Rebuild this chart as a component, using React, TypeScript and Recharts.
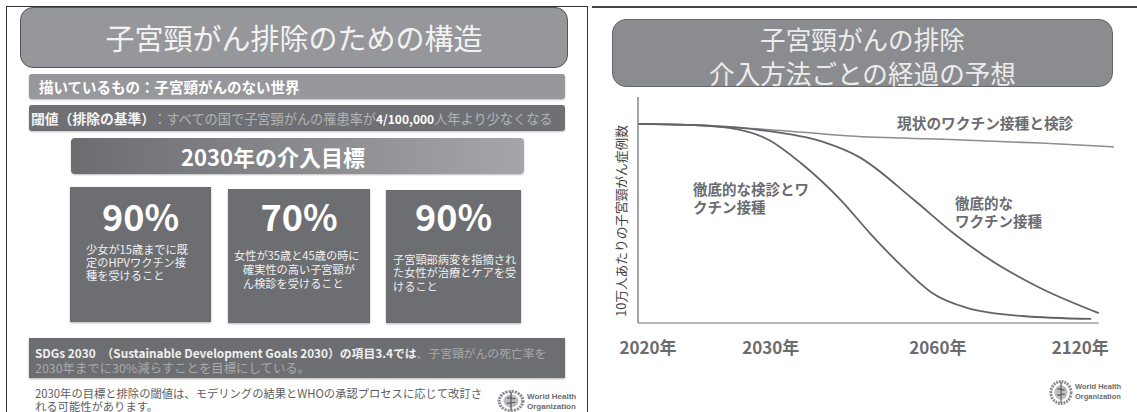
import { Line, LineChart, ReferenceLine, XAxis, YAxis } from "recharts";
import type { CSSProperties, ReactNode } from "react";

const JP = '"Noto Sans CJK JP", "Noto Sans", sans-serif';
const GREY_TEXT = "#6b6c70";

// Schematic time axis: 0-100 across the plot, the years are not evenly spaced.
const tickPositions = [2.1, 27.9, 63, 92.9];
const tickLabels = ["2020年", "2030年", "2060年", "2120年"];

const currentX = [0, 13, 25.6, 31.3, 44.5, 65.5, 84.5, 100];
const currentY = [88.1, 87.6, 85.8, 85, 82.7, 81.2, 79.6, 77.9];

const vaccineX = [0, 13, 25.6, 38.9, 46.4, 58, 66.2, 73.1, 84.5, 96.8];
const vaccineY = [88.1, 87.4, 85.4, 80.1, 73.5, 54.4, 39.8, 29.2, 15.5, 4.4];

const screeningX = [0, 10.9, 19.1, 27.5, 34.2, 42.6, 48.7, 55.6, 61.8, 69.3, 80.7, 95.2];
const screeningY = [88.1, 87.6, 86.3, 81, 70.8, 54.4, 39.8, 24.8, 13.3, 6.6, 3.1, 1.8];

const toRows = (xs: number[], ys: number[]) => xs.map((x, i) => ({ x, y: ys[i] }));

function Box({ style, children }: { style: CSSProperties; children?: ReactNode }) {
  return <div style={{ position: "absolute", boxSizing: "border-box", ...style }}>{children}</div>;
}

function Text({ x, y, size, color = "#fff", bold, width, children }: {
  x: number;
  y: number;
  size: number;
  color?: string;
  bold?: boolean;
  width?: number;
  children: ReactNode;
}) {
  // y is the vertical centre of the line
  const h = Math.ceil(size * 1.1);
  return (
    <div
      style={{
        position: "absolute",
        left: x,
        top: y - h / 2,
        width,
        height: h,
        lineHeight: `${h}px`,
        fontSize: size,
        fontWeight: bold ? 700 : 400,
        color,
        whiteSpace: "nowrap",
        textAlign: width ? "center" : "left",
      }}
    >
      {children}
    </div>
  );
}

function WhoLogo({ x, y, w, h, textX, fontSize, lineGap }: {
  x: number;
  y: number;
  w: number;
  h: number;
  textX: number;
  fontSize: number;
  lineGap: number;
}) {
  return (
    <div style={{ position: "absolute", left: x, top: y }}>
      <svg width={w} height={h} viewBox="0 0 26 24" preserveAspectRatio="none" style={{ position: "absolute", left: 0, top: 0 }}>
        <ellipse cx="13" cy="12" rx="11" ry="10.5" fill="none" stroke="#8a8b8f" strokeWidth="3" strokeDasharray="2 1" />
        <circle cx="13" cy="12" r="7" fill="#bdbec1" />
        <path d="M13 2v20M9 9c3-2 6 2 8 0M9 14c3 2 6-2 8 0" fill="none" stroke="#5e5f63" strokeWidth="1.3" />
      </svg>
      <div
        style={{
          position: "absolute",
          left: textX,
          top: 2,
          fontFamily: '"Liberation Sans", sans-serif',
          fontWeight: 700,
          fontSize,
          lineHeight: `${lineGap}px`,
          color: "#6a6b6f",
          whiteSpace: "nowrap",
        }}
      >
        World Health
        <br />
        Organization
      </div>
    </div>
  );
}

const cards = [
  { x: 70, y: 187, w: 141, h: 135, pct: "90%", lines: [[86, 249, "少女が15歳までに既"], [86, 262, "定のHPVワクチン接"], [86, 275, "種を受けること"]] },
  { x: 228, y: 189, w: 142, h: 134, pct: "70%", lines: [[234, 255, "女性が35歳と45歳の時に"], [243, 269, "確実性の高い子宮頸が"], [243, 283, "ん検診を受けること"]] },
  { x: 386, y: 190, w: 135, h: 133, pct: "90%", lines: [[393, 259, "子宮頸部病変を指摘され"], [393, 272.5, "た女性が治療とケアを受"], [393, 286, "けること"]] },
] as const;

export default function App() {
  return (
    <div style={{ position: "fixed", left: 0, top: 0, width: 1137, height: 412, overflow: "hidden", background: "#fff", fontFamily: JP }}>
      {/* slide frames */}
      <Box style={{ left: 6, top: 6, width: 582, height: 420, border: "1.5px solid #333" }} />
      <Box style={{ left: 592, top: 6, width: 560, height: 2, background: "#444" }} />

      {/* left slide */}
      <Box style={{ left: 20, top: 7, width: 548, height: 61, background: "#96979b", border: "1px solid #555", borderRadius: 13 }} />
      <Text x={20} y={37} size={29} width={548} color="#f2f2f2">子宮頸がん排除のための構造</Text>

      <Box style={{ left: 29, top: 74, width: 536, height: 25, background: "#97989c", borderRadius: 3, boxShadow: "0 1px 2px rgba(0,0,0,.25)" }} />
      <Text x={39} y={87} size={14.5} bold>描いているもの：子宮頸がんのない世界</Text>

      <Box style={{ left: 29, top: 105, width: 536, height: 26, background: "#6f7074", borderRadius: 3, boxShadow: "0 1px 2px rgba(0,0,0,.25)" }} />
      <Text x={31} y={118} size={13.2} color="#b4b5b7">
        <span style={{ color: "#f4f4f4", fontWeight: 700, fontSize: 13.8, marginRight: 5 }}>閾値（排除の基準）</span>：すべての国で子宮頸がんの罹患率が
        <span style={{ color: "#fff", fontWeight: 700, fontSize: 12 }}>4/100,000</span>人年より少なくなる
      </Text>

      <Box style={{ left: 71, top: 138, width: 453, height: 36, borderRadius: 4, background: "linear-gradient(90deg, #6c6d71, #a5a6a9)", boxShadow: "0 1px 2px rgba(0,0,0,.25)" }} />
      <Text x={71} y={156} size={22} bold width={404}>2030年の介入目標</Text>

      {cards.map((c) => (
        <div key={c.x}>
          <Box style={{ left: c.x, top: c.y, width: c.w, height: c.h, background: "#6d6e72", boxShadow: "0 1px 2px rgba(0,0,0,.3)" }} />
          <Text x={c.x} y={215} size={36} width={c.w} bold>{c.pct}</Text>
          {c.lines.map(([lx, ly, t]) => (
            <Text key={t} x={lx} y={ly} size={11.2} color="#f0f0f0">{t}</Text>
          ))}
        </div>
      ))}

      <Box style={{ left: 29, top: 338, width: 536, height: 40, background: "#6d6e72", boxShadow: "0 1px 2px rgba(0,0,0,.3)" }} />
      <Text x={35} y={352} size={11.8} color="#a9aaac">
        <span style={{ color: "#f0f0f0", fontWeight: 700 }}>SDGs 2030　（Sustainable Development Goals 2030）の項目3.4では</span>、子宮頸がんの死亡率を
      </Text>
      <Text x={35} y={368} size={12.4} color="#a9aaac">2030年までに30%減らすことを目標にしている。</Text>

      <Text x={35} y={393} size={11.3} color="#5c5d61">2030年の目標と排除の閾値は、モデリングの結果とWHOの承認プロセスに応じて改訂さ</Text>
      <Text x={35} y={406} size={11.3} color="#5c5d61">れる可能性があります。</Text>
      <WhoLogo x={497} y={390} w={28} h={22} textX={30} fontSize={8} lineGap={10} />

      {/* right slide */}
      <Box style={{ left: 612, top: 19, width: 501, height: 68, background: "#8b8c90", border: "1px solid #666", borderRadius: 14 }} />
      <Text x={612} y={38} size={25.6} width={501} color="#ececec">子宮頸がんの排除</Text>
      <Text x={612} y={72} size={25.6} width={501} color="#ececec">介入方法ごとの経過の予想</Text>

      <div style={{ position: "absolute", left: 590, top: 90 }}>
        <LineChart width={547} height={322} margin={{ top: 7, right: 23, bottom: 59, left: 0 }}>
          <XAxis
            type="number"
            dataKey="x"
            domain={[0, 100]}
            ticks={tickPositions}
            tickFormatter={(v: number) => tickLabels[tickPositions.indexOf(v)]}
            interval={0}
            axisLine={false}
            tickLine={false}
            height={30}
            tickMargin={13}
            tick={{ fill: GREY_TEXT, fontSize: 17, fontWeight: 700, fontFamily: JP }}
          />
          <YAxis
            type="number"
            domain={[0, 100]}
            width={48}
            tick={false}
            tickLine={false}
            axisLine={{ stroke: "#85868a", strokeWidth: 1.5 }}
            label={{
              value: "10万人あたりの子宮頸がん症例数",
              angle: -90,
              position: "insideLeft",
              offset: 31,
              dy: 11,
              style: { fill: "#3f3f42", fontSize: 12.7, fontFamily: JP, textAnchor: "middle" },
            }}
          />
          <ReferenceLine
            segment={[{ x: 0, y: 0 }, { x: 96.8, y: 0 }]}
            stroke="#a0a1a5"
            strokeWidth={1.5}
          />
          <Line data={toRows(currentX, currentY)} dataKey="y" type="monotone" stroke="#8c8d91" strokeWidth={1.5} dot={false} isAnimationActive={false} />
          <Line data={toRows(vaccineX, vaccineY)} dataKey="y" type="monotone" stroke="#636468" strokeWidth={1.8} dot={false} isAnimationActive={false} />
          <Line data={toRows(screeningX, screeningY)} dataKey="y" type="monotone" stroke="#636468" strokeWidth={1.8} dot={false} isAnimationActive={false} />
        </LineChart>
      </div>

      <Text x={897} y={122} size={14.7} bold color={GREY_TEXT}>現状のワクチン接種と検診</Text>
      <Text x={693} y={189} size={14.5} bold color={GREY_TEXT}>徹底的な検診とワ</Text>
      <Text x={693} y={207} size={14.5} bold color={GREY_TEXT}>クチン接種</Text>
      <Text x={955} y={203} size={14.5} bold color={GREY_TEXT}>徹底的な</Text>
      <Text x={955} y={221} size={14.5} bold color={GREY_TEXT}>ワクチン接種</Text>

      <WhoLogo x={1049} y={380} w={24} h={25} textX={26} fontSize={7.5} lineGap={10} />
    </div>
  );
}
